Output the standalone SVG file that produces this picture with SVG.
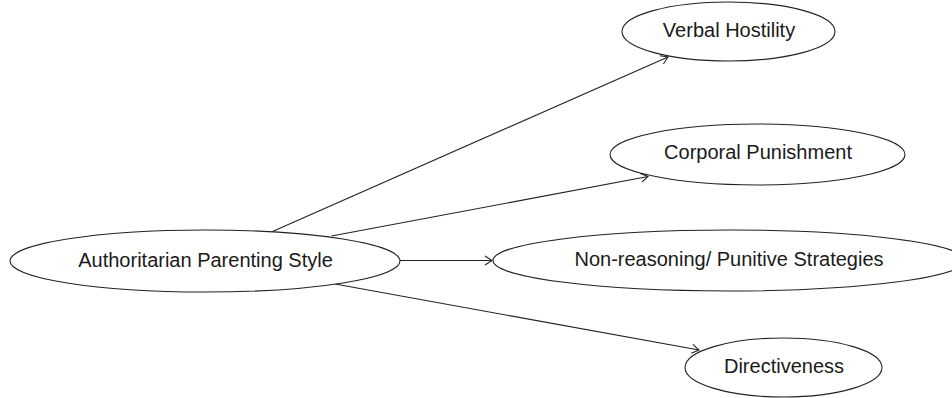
<svg xmlns="http://www.w3.org/2000/svg" width="952" height="398" viewBox="0 0 952 398">
<style>
.node ellipse{fill:#fff;stroke:#222;stroke-width:1.1}
.node text{font-family:"Liberation Sans",Arial,sans-serif;font-size:20px;fill:#1a1a1a;text-anchor:middle}
.edge{stroke:#222;stroke-width:1.1;fill:none;marker-end:url(#arr)}
</style>
<defs>
<marker id="arr" viewBox="-10 -6 12 12" markerWidth="12" markerHeight="12" refX="0" refY="0" orient="auto" markerUnits="userSpaceOnUse">
<path d="M-7,-4.5 L0,0 L-7,4.5" fill="none" stroke="#222" stroke-width="1.1"/>
</marker>
</defs>
<rect width="952" height="398" fill="#fff"/>
<g id="connectors">
<line class="edge" x1="272.5" y1="231.5" x2="668" y2="57"/>
<line class="edge" x1="331.5" y1="236" x2="648" y2="176.5"/>
<line class="edge" x1="400" y1="260.5" x2="492" y2="260.5"/>
<line class="edge" x1="335" y1="284" x2="699" y2="350"/>
</g>
<g id="authoritarian" class="node">
<ellipse cx="205" cy="261" rx="195" ry="31"/>
<text x="205.5" y="266.5">Authoritarian Parenting Style</text>
</g>
<g id="verbal" class="node">
<ellipse cx="728.5" cy="31.5" rx="106.5" ry="29.5"/>
<text x="729" y="36.5">Verbal Hostility</text>
</g>
<g id="corporal" class="node">
<ellipse cx="757.5" cy="154.5" rx="147.5" ry="30.5"/>
<text x="758" y="159">Corporal Punishment</text>
</g>
<g id="nonreasoning" class="node">
<ellipse cx="729" cy="260.5" rx="236" ry="30.5"/>
<text x="729" y="265.5">Non-reasoning/ Punitive Strategies</text>
</g>
<g id="directiveness" class="node">
<ellipse cx="783.5" cy="367.5" rx="98.5" ry="29.5"/>
<text x="784" y="373">Directiveness</text>
</g>
</svg>
